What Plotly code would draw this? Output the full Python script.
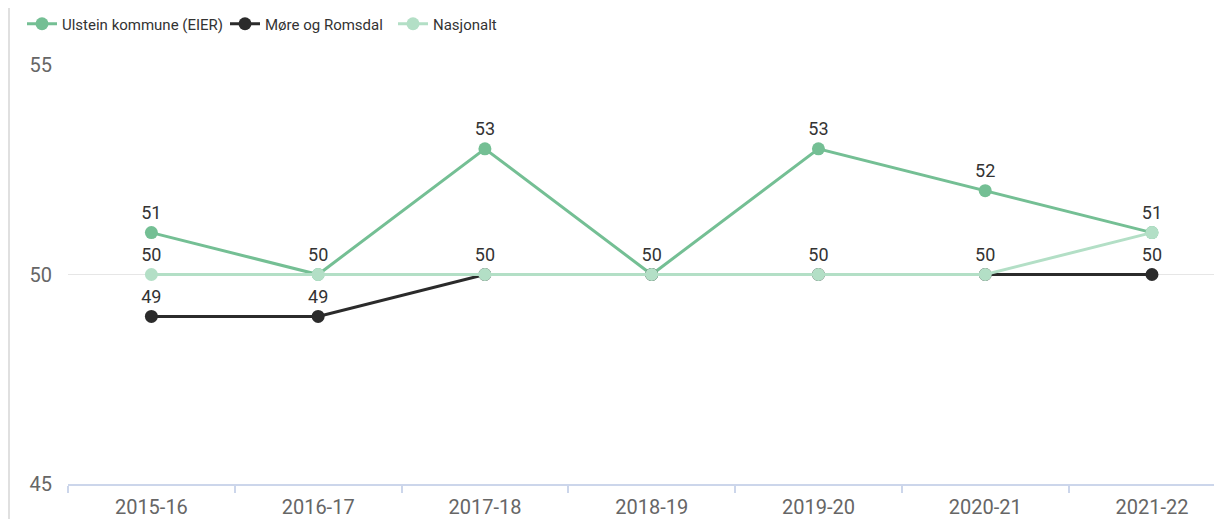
import plotly.graph_objects as go

categories = ["2015-16", "2016-17", "2017-18", "2018-19", "2019-20", "2020-21", "2021-22"]
ulstein = [51, 50, 53, 50, 53, 52, 51]
more_romsdal = [49, 49, 50, 50, 50, 50, 50]
nasjonalt = [50, 50, 50, 50, 50, 50, 51]

series = [
    ("Ulstein kommune (EIER)", ulstein, "#74bf94"),
    ("Møre og Romsdal", more_romsdal, "#2b2b2b"),
    ("Nasjonalt", nasjonalt, "#b3dfc6"),
]

# page body has an 8px margin; figure sized to fill the rest of the window
W, H = 1214, 511
legend_x_px = [14, 217, 385]

fig = go.Figure()
seen = set()
for i, (name, vals, color) in enumerate(series):
    texts = []
    for c, v in zip(categories, vals):
        key = (c, v)
        texts.append("" if key in seen else str(v))
        seen.add(key)
    lg = "legend" if i == 0 else f"legend{i + 1}"
    fig.add_trace(go.Scatter(
        x=categories, y=vals, name=name, mode="lines+markers+text",
        line=dict(color=color, width=3),
        marker=dict(color=color, size=13),
        text=texts, textposition="top center",
        textfont=dict(family="Roboto", size=18, color="#333333"),
        cliponaxis=False, legend=lg,
    ))

legend_common = dict(orientation="h", xref="container", yref="container",
                     yanchor="middle", xanchor="left", y=1 - 16 / H,
                     font=dict(family="Roboto", size=15, color="#333333"),
                     bgcolor="rgba(0,0,0,0)")
legends = {}
for i, xp in enumerate(legend_x_px):
    key = "legend" if i == 0 else f"legend{i + 1}"
    legends[key] = dict(legend_common, x=xp / W)

fig.update_layout(
    width=W, height=H,
    margin=dict(l=60, r=0, t=57, b=35),
    paper_bgcolor="white", plot_bgcolor="white",
    font=dict(family="Roboto", size=16, color="#666666"),
    showlegend=True,
    **legends,
    xaxis=dict(type="category", range=[-0.5, 6.42], showgrid=False,
               showline=True, linecolor="#ccd6eb", linewidth=2,
               ticks="outside", tickson="boundaries", ticklen=7, tickcolor="#ccd6eb",
               tickwidth=2, ticklabelstandoff=4,
               tickfont=dict(size=20, color="#666666"), fixedrange=True),
    yaxis=dict(range=[45, 55], tickvals=[45, 50, 55], showgrid=True,
               gridcolor="#e6e6e6", gridwidth=1, zeroline=False, showline=False,
               ticks="", ticklabelstandoff=15,
               tickfont=dict(size=20, color="#666666"), fixedrange=True),
    shapes=[dict(type="line", xref="paper", yref="paper",
                 x0=-59 / 1154, x1=-59 / 1154, y0=-35 / 419, y1=(419 + 57) / 419,
                 line=dict(color="#e0e0e0", width=2))],
)

fig.write_html("out.html")
